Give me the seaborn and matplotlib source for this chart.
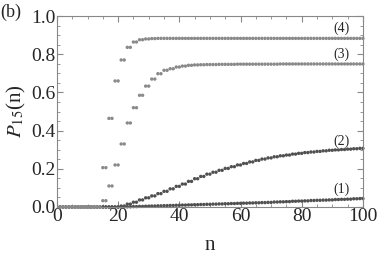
import numpy as np
import pandas as pd
import seaborn as sns
import matplotlib.pyplot as plt
from matplotlib.ticker import MultipleLocator

# values read per pair of steps (n odd, n+1 share the value), n = 1..100
p1 = [0, 0, 0, 0, 0, 0, 0, 0, 0, 0, 0,
      0.001, 0.002, 0.003, 0.004, 0.005, 0.006, 0.007, 0.008, 0.009, 0.010,
      0.011, 0.012, 0.013, 0.014, 0.015, 0.016, 0.017, 0.018, 0.019, 0.020,
      0.021, 0.022, 0.023, 0.024, 0.026, 0.027, 0.028, 0.030, 0.031, 0.032,
      0.034, 0.035, 0.036, 0.037, 0.039, 0.040, 0.041, 0.043, 0.044]
p2 = [0, 0, 0, 0, 0, 0, 0, 0, 0, 0,
      0.005, 0.015, 0.025, 0.037, 0.048, 0.058, 0.070, 0.082, 0.095, 0.108,
      0.120, 0.134, 0.148, 0.160, 0.172, 0.182, 0.192, 0.202, 0.211, 0.220,
      0.228, 0.236, 0.244, 0.251, 0.257, 0.263, 0.268, 0.272, 0.277, 0.281,
      0.285, 0.288, 0.291, 0.294, 0.297, 0.299, 0.301, 0.303, 0.305, 0.307]
p3 = [0, 0, 0, 0, 0, 0, 0,
      0.033, 0.110, 0.220, 0.330, 0.440, 0.520, 0.585, 0.633, 0.670, 0.698,
      0.716, 0.724, 0.733, 0.738, 0.742, 0.744, 0.745, 0.746, 0.746, 0.747,
      0.747, 0.747, 0.748, 0.748, 0.748, 0.748, 0.748, 0.748, 0.748, 0.749,
      0.749, 0.749, 0.749, 0.749, 0.749, 0.749, 0.749, 0.749, 0.749, 0.749,
      0.749, 0.749, 0.749]
p4 = [0, 0, 0, 0, 0, 0, 0,
      0.206, 0.464, 0.660, 0.770, 0.836, 0.864, 0.876, 0.880, 0.882, 0.883,
      0.883, 0.883, 0.883, 0.883, 0.883, 0.883, 0.883, 0.883, 0.883, 0.883,
      0.883, 0.883, 0.883, 0.883, 0.883, 0.883, 0.883, 0.883, 0.883, 0.883,
      0.883, 0.883, 0.883, 0.883, 0.883, 0.883, 0.883, 0.883, 0.883, 0.883,
      0.883, 0.883, 0.883]
labels = ["(1)", "(2)", "(3)", "(4)"]
label_pos = [(93, 0.093), (93, 0.345), (93, 0.80), (93, 0.937)]

n = np.arange(1, 101)
df = pd.concat([pd.DataFrame({"n": n, "P": np.repeat(p, 2), "curve": lab})
                for p, lab in zip([p1, p2, p3, p4], labels)])

sns.set_style("ticks")
plt.rcParams['font.family'] = ['Liberation Serif', 'DejaVu Serif']
plt.rcParams['mathtext.fontset'] = 'stix'

fig = plt.figure(figsize=(3.82, 2.63), dpi=100)
ax = fig.add_axes([0.149, 0.213, 0.801, 0.726])
pal = {"(1)": "#505050", "(2)": "#505050", "(3)": "#8a8a8a", "(4)": "#8a8a8a"}
sns.scatterplot(data=df, x="n", y="P", hue="curve", palette=pal, s=6,
                linewidth=0, legend=False, ax=ax, clip_on=False)

for lab, (x, y) in zip(labels, label_pos):
    ax.text(x, y, lab, fontsize=10, ha="center", va="center")

ax.set_xlim(0, 100)
ax.set_ylim(0, 1.0)
ax.xaxis.set_major_locator(MultipleLocator(20))
ax.xaxis.set_minor_locator(MultipleLocator(5))
ax.yaxis.set_major_locator(MultipleLocator(0.2))
ax.yaxis.set_minor_locator(MultipleLocator(0.05))
ax.yaxis.set_major_formatter(plt.FormatStrFormatter("%.1f"))
ax.tick_params(which="both", direction="in", top=True, right=True,
               color="#888888", labelsize=14, pad=1)
ax.tick_params(which="major", length=4)
ax.tick_params(which="minor", length=2)
for s in ax.spines.values():
    s.set_color("#888888")
    s.set_linewidth(0.8)

ax.set_xlabel("n", fontsize=15, labelpad=8)
ax.set_ylabel(r"$P_{15}$(n)", fontsize=15, labelpad=2)
fig.text(0.0, 0.985, "(b)", fontsize=13, ha="left", va="top")

fig.savefig("out.png", dpi=100)
